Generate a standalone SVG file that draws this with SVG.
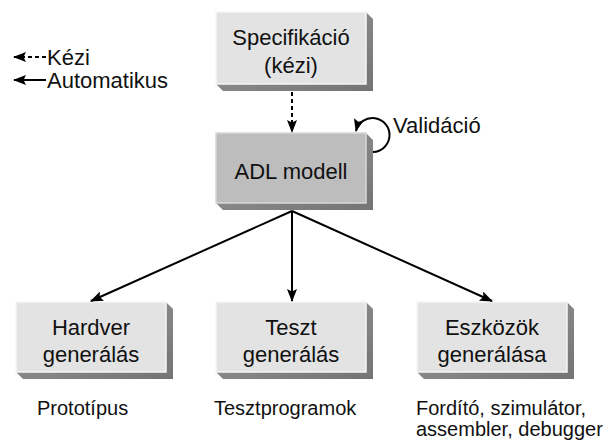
<svg xmlns="http://www.w3.org/2000/svg" width="603" height="440" viewBox="0 0 603 440">
<style>
.t{font-family:"Liberation Sans",Arial,sans-serif;font-size:22px;fill:#111;text-anchor:middle}
.l{font-family:"Liberation Sans",Arial,sans-serif;font-size:20px;fill:#111}
.lg{font-family:"Liberation Sans",Arial,sans-serif;font-size:22px;fill:#111}
.face{fill:#e3e3e3;stroke:#f6f6f6;stroke-width:1.5}
.dark{fill:#bdbdbd;stroke:#d8d8d8;stroke-width:1.5}
.sh{fill:url(#shg)}
.c{stroke:#000;stroke-width:2;fill:none}
.d{stroke-dasharray:4 3}
</style>
<defs>
<linearGradient id="shg" x1="0" y1="0" x2="1" y2="1">
<stop offset="0" stop-color="#9a9a9a"/>
<stop offset="1" stop-color="#747474"/>
</linearGradient>
<marker id="ah" markerUnits="userSpaceOnUse" markerWidth="14" markerHeight="10" refX="12" refY="5" orient="auto">
<path d="M0,0 L13,5 L0,10 L2.5,5 z" fill="#000"/>
</marker>
</defs>
<g id="legend">
<line class="c d" x1="46" y1="57" x2="14" y2="57" marker-end="url(#ah)"/>
<line class="c" x1="46" y1="80" x2="14" y2="80" marker-end="url(#ah)"/>
<text class="lg" x="47" y="65">Kézi</text>
<text class="lg" x="47" y="88">Automatikus</text>
</g>
<g id="spec">
<polygon class="sh" points="366,12 373,19 373,91 223,91 216,84 366,84"/>
<rect class="face" x="216" y="12" width="150" height="72"/>
<text class="t" x="291" y="45">Specifikáció</text>
<text class="t" x="291" y="73">(kézi)</text>
</g>
<g id="adl">
<polygon class="sh" points="366,133 373,140 373,210 223,210 216,203 366,203"/>
<rect class="dark" x="216" y="133" width="150" height="70"/>
<text class="t" x="291" y="179">ADL modell</text>
</g>
<g id="hardver">
<polygon class="sh" points="166,302 173,309 173,379 23,379 16,372 166,372"/>
<rect class="face" x="16" y="302" width="150" height="70"/>
<text class="t" x="91" y="335">Hardver</text>
<text class="t" x="91" y="362">generálás</text>
</g>
<g id="teszt">
<polygon class="sh" points="366,302 373,309 373,379 223,379 216,372 366,372"/>
<rect class="face" x="216" y="302" width="150" height="70"/>
<text class="t" x="291" y="335">Teszt</text>
<text class="t" x="291" y="362">generálás</text>
</g>
<g id="eszkozok">
<polygon class="sh" points="567,302 574,309 574,379 424,379 417,372 567,372"/>
<rect class="face" x="417" y="302" width="150" height="70"/>
<text class="t" x="492" y="335">Eszközök</text>
<text class="t" x="492" y="362">generálása</text>
</g>
<g id="labels">
<text class="l" x="37" y="415">Prototípus</text>
<text class="l" x="214" y="415">Tesztprogramok</text>
<text class="l" x="416" y="415">Fordító, szimulátor,</text>
<text class="l" x="416" y="436">assembler, debugger</text>
<text class="lg" x="393" y="133">Validáció</text>
</g>
<g id="connectors">
<line class="c d" x1="292" y1="92" x2="292" y2="132" marker-end="url(#ah)"/>
<line class="c" x1="292" y1="211" x2="91" y2="301" marker-end="url(#ah)"/>
<line class="c" x1="292" y1="211" x2="292" y2="301" marker-end="url(#ah)"/>
<line class="c" x1="292" y1="211" x2="492" y2="301" marker-end="url(#ah)"/>
<path class="c" d="M373,152 A17,17 0 1 0 356,131" marker-end="url(#ah)"/>
</g>
</svg>
